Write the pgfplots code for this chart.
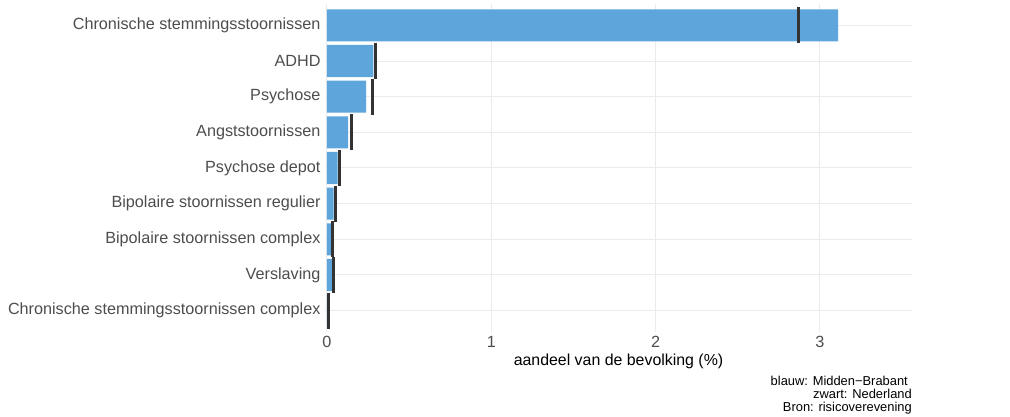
\documentclass[border=0pt]{standalone}
\usepackage{pgfplots}
\pgfplotsset{compat=1.18}
\usepackage{fontspec}
\setmainfont{Liberation Sans}
\definecolor{barblue}{RGB}{93,165,218}
\definecolor{gridgray}{RGB}{235,235,235}
\definecolor{labgray}{RGB}{77,77,77}
\definecolor{markblack}{RGB}{51,51,51}
\begin{document}
\begin{tikzpicture}
\path (0,0) rectangle (1010pt,-417pt);
\begin{axis}[
  at={(325pt,-4pt)}, anchor=north west,
  scale only axis, width=587pt, height=328pt,
  xmin=-0.012, xmax=3.56, ymin=-0.6, ymax=8.6,
  axis line style={draw=none},
  tick style={draw=none},
  xtick={0,1,2,3},
  ytick={0,...,8},
  yticklabels={Chronische stemmingsstoornissen complex, Verslaving, Bipolaire stoornissen complex, Bipolaire stoornissen regulier, Psychose depot, Angststoornissen, Psychose, ADHD, Chronische stemmingsstoornissen},
  grid=major, major grid style={gridgray, line width=1pt},
  /pgf/number format/assume math mode=true,
  ticklabel style={font=\fontsize{16.2}{19}\selectfont, text=labgray},
  yticklabel style={xshift=-1pt},
  xticklabel style={yshift=-1pt},
  xlabel={aandeel van de bevolking (\%)},
  xlabel style={font=\fontsize{15.9}{19}\selectfont, text=black, yshift=1pt},
]
\addplot[xbar, bar width=0.9, fill=barblue, draw=none] coordinates {
(3.11,8) (0.283,7) (0.238,6) (0.128,5) (0.065,4) (0.041,3) (0.029,2) (0.031,1) (0.004,0)
};
\addplot[only marks, mark=|, mark size=18pt, mark options={line width=3pt, draw=markblack}] coordinates {
(2.87,8) (0.297,7) (0.275,6) (0.147,5) (0.077,4) (0.051,3) (0.033,2) (0.039,1) (0.008,0)
};
\end{axis}
\node[anchor=north east, align=right, inner sep=0pt, font=\fontsize{12.9}{13.2}\selectfont] at (912pt,-376pt) {blauw: Midden−Brabant\kern4pt\\ zwart: Nederland\\ Bron: risicoverevening};
\end{tikzpicture}
\end{document}
